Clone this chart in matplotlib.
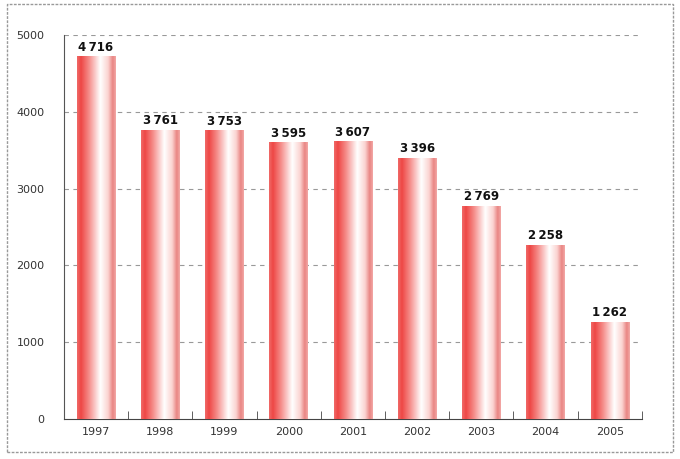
import numpy as np
import matplotlib
matplotlib.use("Agg")
import matplotlib.pyplot as plt
from matplotlib.colors import LinearSegmentedColormap
from matplotlib.patches import Rectangle

years = ["1997", "1998", "1999", "2000", "2001", "2002", "2003", "2004", "2005"]
values = [4716, 3761, 3753, 3595, 3607, 3396, 2769, 2258, 1262]

fig = plt.figure(figsize=(6.8, 4.59), dpi=100)
ax = fig.add_axes([0.094, 0.087, 0.85, 0.837])

# horizontal gradient for the bars: red left, white middle, pink right
cmap = LinearSegmentedColormap.from_list(
    "bar", [(0.0, "#f06a68"), (0.1, "#ee4745"), (0.3, "#f58a87"),
            (0.6, "#ffffff"), (0.8, "#fbd3d1"), (0.92, "#e98583"),
            (1.0, "#f3a9a7")])
grad = np.linspace(0, 1, 256).reshape(1, -1)

width = 0.6
x = np.arange(len(years))
for xi, v in zip(x, values):
    ax.imshow(grad, cmap=cmap, aspect="auto", interpolation="bilinear",
              extent=(xi - width / 2, xi + width / 2, 0, v), zorder=3)
    ax.text(xi, v + 40, f"{v // 1000}\u2009{v % 1000:03d}", ha="center",
            va="bottom", fontsize=8.5, fontweight="bold", color="#111111", zorder=4)

ax.set_xlim(-0.5, len(years) - 0.5)
ax.set_ylim(0, 5000)
ax.set_yticks([0, 1000, 2000, 3000, 4000, 5000])
ax.set_yticklabels(["0", "1000", "2000", "3000", "4000", "5000"])
ax.set_xticks(x)
ax.set_xticklabels(years)
ax.set_xticks(np.arange(0.5, len(years) - 0.4), minor=True)
ax.tick_params(axis="x", which="major", length=0, labelsize=8, labelcolor="#333333", pad=6)
ax.tick_params(axis="x", which="minor", direction="in", length=6, color="#444444")
ax.tick_params(axis="y", length=0, labelsize=8, labelcolor="#333333", pad=14)

for y in [1000, 2000, 3000, 4000, 5000]:
    ax.axhline(y, color="#999999", linestyle=(0, (4, 4)), linewidth=0.8, zorder=1)

ax.spines["top"].set_visible(False)
ax.spines["right"].set_visible(False)
ax.spines["left"].set_color("#555555")
ax.spines["bottom"].set_color("#444444")

# dashed frame round the whole figure
fig.patches.append(Rectangle((7 / 680, 7 / 459), 666 / 680, 448 / 459,
                             transform=fig.transFigure, fill=False,
                             edgecolor="#999999", linestyle=(0, (2, 1)),
                             linewidth=1.0))

fig.savefig("out.png", dpi=100)
